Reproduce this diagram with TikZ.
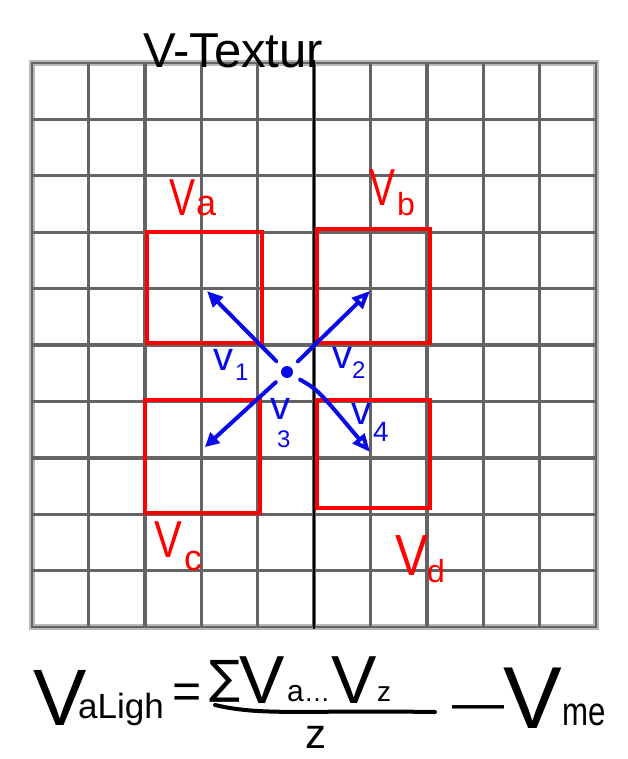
\documentclass[tikz,border=0pt]{standalone}
\usepackage{fontspec}
\setmainfont{Liberation Sans}
\newfontfamily\djv{DejaVu Sans}
\usetikzlibrary{arrows.meta}
\definecolor{gridc}{RGB}{100,100,100}
\definecolor{gridb}{RGB}{185,185,185}
\definecolor{hred}{RGB}{255,0,0}
\definecolor{hblue}{RGB}{10,10,230}
\newcommand{\fs}[1]{\fontsize{#1}{#1}\selectfont}
\newcommand{\narrowV}[1]{\scalebox{#1}[1]{V}}
\begin{document}
\begin{tikzpicture}[x=1pt,y=-1pt,
  gridline/.style={gridc, line width=3.4},
  redbox/.style={draw=hred, line width=4, inner sep=0, rectangle},
  redlab/.style={hred, inner sep=0, anchor=base west},
  bluelab/.style={hblue, inner sep=0, anchor=base west},
  varrow/.style={hblue, line width=4, line cap=round, shorten <=9},
  formula/.style={black, inner sep=0, anchor=base west}]
\useasboundingbox (0,0) rectangle (627,759);
\fill[white] (0,0) rectangle (627,759);
% grid
\draw[gridb, line width=6] (32,63) rectangle (596,627);
\foreach \i in {1,...,9} {
  \draw[gridline] (32+56.4*\i,63) -- (32+56.4*\i,627);
  \draw[gridline] (32,63+56.4*\i) -- (596,63+56.4*\i);
}
\draw[gridc, line width=2.5] (32,63) rectangle (596,627);
% title and axis
\node[formula, font=\fs{49}] (title) at (143,68) {V-Textur};
\coordinate (axtop) at (314,60);
\coordinate (axbot) at (314,629);
\draw[black, line width=2.2] (axtop) -- (axbot);
% red squares
\node[redbox, minimum width=115, minimum height=111] (sqA) at (204.5,287.5) {};
\node[redbox, minimum width=113, minimum height=114] (sqB) at (373.5,286) {};
\node[redbox, minimum width=115, minimum height=113] (sqC) at (202.5,456.5) {};
\node[redbox, minimum width=113, minimum height=108] (sqD) at (373.5,454) {};
% red labels
\node[redlab, font=\fs{52}] (VA) at (169,215) {\narrowV{0.75}};
\node[redlab, font=\fs{36}] (VAs) at (196,215) {a};
\node[redlab, font=\fs{52}] (VB) at (369,205) {\narrowV{0.75}};
\node[redlab, font=\fs{32}] (VBs) at (397,215) {b};
\node[redlab, font=\fs{52}] (VC) at (154,557) {\narrowV{0.8}};
\node[redlab, font=\fs{36}] (VCs) at (184,570) {c};
\node[redlab, font=\fs{58}] (VD) at (395,575) {\narrowV{0.85}};
\node[redlab, font=\fs{32}] (VDs) at (427,582) {d};
% blue vectors
\node[circle, fill=hblue, inner sep=0, minimum size=12] (dot) at (287,372) {};
\coordinate (t1) at (207,291);
\coordinate (t2) at (370,291);
\coordinate (t3) at (205,447);
\coordinate (t4) at (370,452);
\draw[varrow, -{Triangle[length=16,width=14]}] (dot) -- (t1);
\draw[varrow, -{Triangle[open,length=18,width=15]}] (dot) -- (t2);
\draw[varrow, -{Triangle[length=14,width=14]}] (dot) -- (t3);
\draw[varrow, -{Triangle[open,length=18,width=15]}] (dot) .. controls (318,390) .. (t4);
\node[bluelab, font=\fs{40}] (v1) at (213,370) {v};
\node[bluelab, font=\fs{24}] (v1s) at (235,380) {1};
\node[bluelab, font=\fs{40}] (v2) at (332,368) {v};
\node[bluelab, font=\fs{24}] (v2s) at (352,378) {2};
\node[bluelab, font=\fs{40}] (v3) at (270,419) {v};
\node[bluelab, font=\fs{24}] (v3s) at (277,447) {3};
\node[bluelab, font=\fs{40}] (v4) at (351,424) {v};
\node[bluelab, font=\fs{28}] (v4s) at (373,441) {4};
% formula
\node[formula, font=\fs{80}] (FV) at (33,725) {V};
\node[formula, font=\fs{35}] (FVs) at (78,718) {aLigh};
\node[formula, font=\fs{50}] (Feq) at (172,708) {=};
\node[formula, font=\djv\fs{46}] (Fsum) at (209,693) {∑};
\node[formula, font=\fs{68}] (FN1) at (239,703) {V};
\node[formula, font=\fs{30}] (FN1s) at (287,701) {a};
\node[formula, font=\fs{26}] (Fdots) at (304,701) {…};
\node[formula, font=\fs{68}] (FN2) at (331,703) {V};
\node[formula, font=\fs{28}] (FN2s) at (377,701) {z};
\draw[black, line width=4, line cap=round] (215,705) .. controls (262,716) and (300,710) .. (435,712);
\node[formula, font=\fs{42}] (Fden) at (305,748) {z};
\node[formula, font=\fs{52}] (Fminus) at (452,720) {—};
\node[formula, font=\fs{88}] (FV2) at (503,728) {V};
\node[formula, font=\fs{40}] (FV2s) at (562,725) {\scalebox{0.78}[1]{me}};
\end{tikzpicture}
\end{document}
